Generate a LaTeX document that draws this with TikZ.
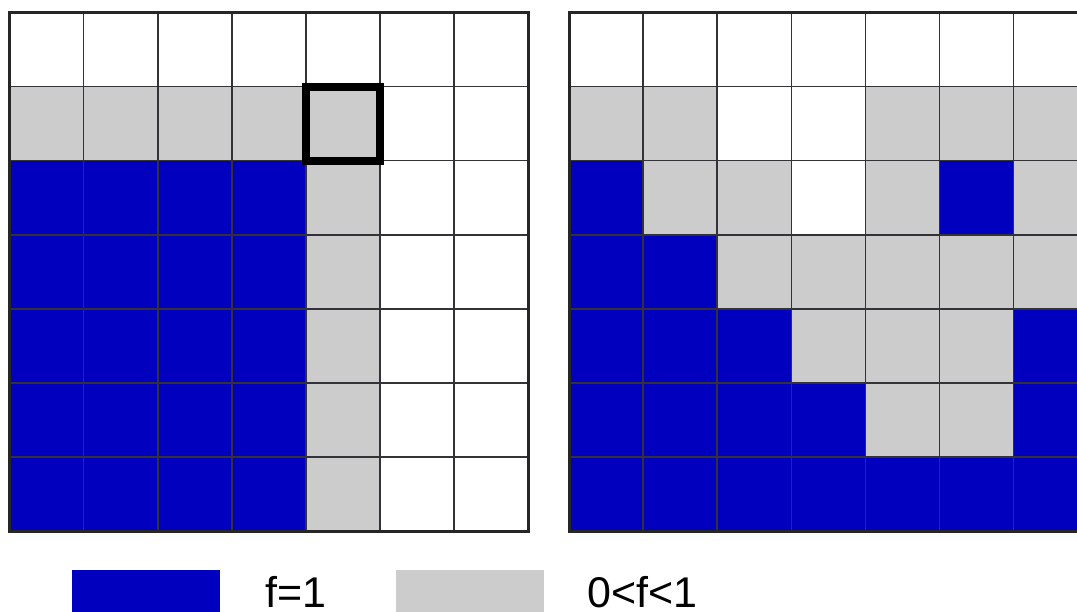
\documentclass[tikz,border=0pt]{standalone}
\usepackage{fontspec}
\setmainfont{Liberation Sans}
\definecolor{fblue}{RGB}{0,0,190}
\definecolor{fgray}{RGB}{204,204,204}
\definecolor{gline}{RGB}{50,50,55}
\tikzset{
  cB/.style={fill=fblue},
  cG/.style={fill=fgray},
  cW/.style={fill=white},
  innerline/.style={draw=gline,line width=1.6pt},
  outerline/.style={draw=black!85,line width=3pt},
  hilite/.style={draw=black,line width=8pt},
  legendtext/.style={anchor=base west,inner sep=0pt,font=\fontsize{43}{50}\selectfont}
}
\begin{document}
\begin{tikzpicture}[x=1pt,y=-1pt]
\useasboundingbox (0,0) rectangle (1077,612);
\clip (0,0) rectangle (1077,612);
\fill[white] (0,0) rectangle (1077,612);
\def\cs{74.1}
% left grid: rows top to bottom
\foreach \r/\row in {0/{cW,cW,cW,cW,cW,cW,cW},1/{cG,cG,cG,cG,cG,cW,cW},2/{cB,cB,cB,cB,cG,cW,cW},3/{cB,cB,cB,cB,cG,cW,cW},4/{cB,cB,cB,cB,cG,cW,cW},5/{cB,cB,cB,cB,cG,cW,cW},6/{cB,cB,cB,cB,cG,cW,cW}}{
  \foreach \c [count=\i from 0] in \row {
    \path[\c] (9.5+\i*\cs,12.5+\r*\cs) rectangle ++(\cs,\cs);
  }
}
% right grid
\foreach \r/\row in {0/{cW,cW,cW,cW,cW,cW,cW},1/{cG,cG,cW,cW,cG,cG,cG},2/{cB,cG,cG,cW,cG,cB,cG},3/{cB,cB,cG,cG,cG,cG,cG},4/{cB,cB,cB,cG,cG,cG,cB},5/{cB,cB,cB,cB,cG,cG,cB},6/{cB,cB,cB,cB,cB,cB,cB}}{
  \foreach \c [count=\i from 0] in \row {
    \path[\c] (569+\i*\cs,12.5+\r*\cs) rectangle ++(\cs,\cs);
  }
}
% grid lines
\foreach \ox in {9.5,569}{
  \foreach \k in {1,...,6}{
    \draw[innerline] (\ox+\k*\cs,12.5) -- (\ox+\k*\cs,12.5+7*\cs);
    \draw[innerline] (\ox,12.5+\k*\cs) -- (\ox+7*\cs,12.5+\k*\cs);
  }
  \draw[outerline] (\ox,12.5) rectangle (\ox+7*\cs,12.5+7*\cs);
}
% highlighted cell
\draw[hilite] (9.5+4*\cs,12.5+\cs) rectangle ++(\cs,\cs);
% legend
\fill[fblue] (72,570) rectangle (220,620);
\node[legendtext] (l1) at (265,607) {f=1};
\fill[fgray] (396,570) rectangle (544,620);
\node[legendtext] (l2) at (587,607) {0<f<1};
\end{tikzpicture}
\end{document}
